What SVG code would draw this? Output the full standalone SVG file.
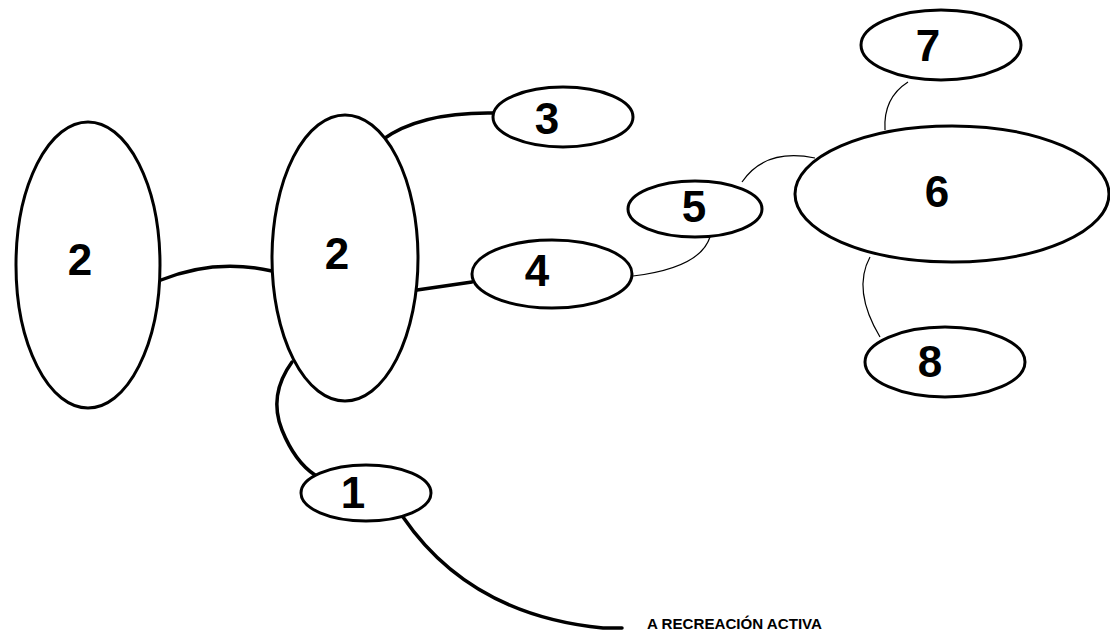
<svg xmlns="http://www.w3.org/2000/svg" width="1110" height="631" viewBox="0 0 1110 631">
<style>
.node{fill:#fff;stroke:#000;stroke-width:3}
.num{font-family:"Liberation Sans",Arial,sans-serif;font-weight:bold;font-size:44px;text-anchor:middle;fill:#000}
.thick{fill:none;stroke:#000;stroke-width:3.5;stroke-linecap:round}
.thin{fill:none;stroke:#000;stroke-width:1.2}
.lbl{font-family:"Liberation Sans",Arial,sans-serif;font-weight:bold;font-size:15px;fill:#000}
</style>
<rect width="1110" height="631" fill="#fff"/>
<g id="connectors">
<path class="thick" d="M161 280 Q215 258 272 271"/>
<path class="thick" d="M382 140 Q420 112 493 113"/>
<path class="thick" d="M417 290 L472 282"/>
<path class="thick" d="M292 362 Q268 395 282 430 Q295 462 315 475"/>
<path class="thick" d="M403 517 Q470 615 603 628 L622 628"/>
<path class="thin" d="M633 276 Q700 268 710 237"/>
<path class="thin" d="M742 182 Q765 148 815 158"/>
<path class="thin" d="M908 82 Q883 98 885 130"/>
<path class="thin" d="M870 257 Q852 290 880 337"/>
</g>
<g id="node-2a"><ellipse class="node" cx="88" cy="265" rx="72" ry="143"/><text class="num" x="80" y="275">2</text></g>
<g id="node-2b"><ellipse class="node" cx="345" cy="258" rx="73" ry="143"/><text class="num" x="337" y="269">2</text></g>
<g id="node-3"><ellipse class="node" cx="563" cy="117" rx="70" ry="30"/><text class="num" x="547" y="134">3</text></g>
<g id="node-4"><ellipse class="node" cx="552" cy="274" rx="80" ry="34"/><text class="num" x="537" y="286">4</text></g>
<g id="node-5"><ellipse class="node" cx="695" cy="209" rx="67" ry="28"/><text class="num" x="694" y="222">5</text></g>
<g id="node-6"><ellipse class="node" cx="952" cy="194" rx="157" ry="68"/><text class="num" x="937" y="207">6</text></g>
<g id="node-7"><ellipse class="node" cx="941" cy="45" rx="80" ry="35"/><text class="num" x="928" y="61">7</text></g>
<g id="node-8"><ellipse class="node" cx="945" cy="362" rx="80" ry="35"/><text class="num" x="930" y="377">8</text></g>
<g id="node-1"><ellipse class="node" cx="366" cy="493" rx="65" ry="28"/><text class="num" x="353" y="508">1</text></g>
<text class="lbl" x="647" y="629" textLength="175" lengthAdjust="spacingAndGlyphs">A RECREACIÓN ACTIVA</text>
</svg>
